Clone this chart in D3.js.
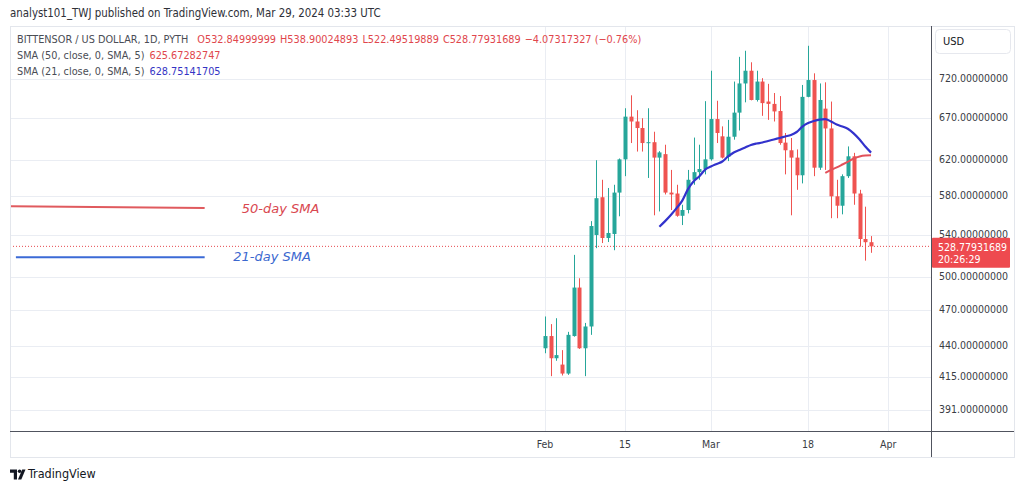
<!DOCTYPE html>
<html lang="en">
<head>
<meta charset="UTF-8">
<title>BITTENSOR / US DOLLAR, 1D</title>
<script src="https://d3js.org/d3.v7.min.js"></script>
<style>
  body { margin: 0; background: #fff; }
  svg text { font-family: "DejaVu Sans Condensed", "DejaVu Sans", sans-serif; }
</style>
</head>
<body>
<svg width="1024" height="491"></svg>
<script>
// daily candles, Feb 1 - Mar 29 2024
const dates = [
  "2024-02-01","2024-02-02","2024-02-03","2024-02-04","2024-02-05","2024-02-06","2024-02-07",
  "2024-02-08","2024-02-09","2024-02-10","2024-02-11","2024-02-12","2024-02-13","2024-02-14",
  "2024-02-15","2024-02-16","2024-02-17","2024-02-18","2024-02-19","2024-02-20","2024-02-21",
  "2024-02-22","2024-02-23","2024-02-24","2024-02-25","2024-02-26","2024-02-27","2024-02-28",
  "2024-02-29","2024-03-01","2024-03-02","2024-03-03","2024-03-04","2024-03-05","2024-03-06",
  "2024-03-07","2024-03-08","2024-03-09","2024-03-10","2024-03-11","2024-03-12","2024-03-13",
  "2024-03-14","2024-03-15","2024-03-16","2024-03-17","2024-03-18","2024-03-19","2024-03-20",
  "2024-03-21","2024-03-22","2024-03-23","2024-03-24","2024-03-25","2024-03-26","2024-03-27",
  "2024-03-28","2024-03-29"
];
const open = [438, 448, 430, 425, 418, 448, 490, 438, 456, 540, 579, 537, 541, 584, 621, 672, 666, 658,
  640, 641, 623, 627, 584, 583, 559.5, 565.5, 598, 606.5, 610,
  621, 669, 648, 624, 647.5, 677, 714.5, 731.5, 693, 717, 691, 688, 679, 640.5, 631.5, 623, 603, 697,
  719, 611.5, 682, 657.5, 580, 570, 602, 624.5, 583, 536, 532.85];
const high = [464.5, 458, 463, 436.5, 451.5, 520.5, 498.5, 459, 554, 620, 598, 589, 592.5, 622, 682.5, 699,
  680, 670, 682.5, 653.5, 630.5, 638, 609, 592.5, 571, 609, 646.5, 638, 691.5,
  731.5, 692, 660, 668, 717, 750.5, 759, 743, 731.5, 721.5, 714, 702, 698, 652, 646, 632.5, 712.5, 766,
  728, 714.5, 716, 691, 598, 604, 636, 628.5, 587, 569, 538.9];
const low = [434, 416, 428, 416.5, 417, 447.5, 437.5, 416, 449, 527, 532, 533, 525, 559, 602, 640, 630, 630,
  600, 560, 564, 582, 565.5, 558.5, 550, 562, 592.5, 598, 604,
  619.5, 640, 622, 619, 644, 655, 690, 692.5, 691, 673, 668, 666, 638, 604, 560, 587, 594, 696.5,
  602, 609, 609, 557, 557, 561, 600, 571, 528.5, 515, 522.5];
const close = [448, 430, 432.5, 418, 449, 490, 438, 456, 549, 578, 537, 542, 584, 621, 672, 666, 658, 640,
  641, 623, 629, 584, 582, 559.5, 565.5, 598, 606.5, 610, 621,
  669, 652, 623, 647.5, 677, 714.5, 731.5, 693, 717, 689, 688, 678.5, 640, 631.5, 623, 603, 697, 719,
  611.5, 693, 657.5, 580, 570, 602, 624.5, 583, 536, 532.85, 528.78];

// moving averages as drawn (21-day from Feb 21, 50-day from Mar 21)
const sma21Start = "2024-02-21";
const sma21 = [548.3, 554, 560.3, 567.5, 575.4, 587.8, 596.4, 602, 609.4, 612.8, 615.7, 618.5, 624.3,
  628.9, 631.8, 634.7, 637.7, 639.4, 640.6, 642.4, 644.2, 646, 647.8, 649.6, 653.2, 659.8, 664.1,
  666.6, 668.4, 669, 666, 662.3, 659.8, 656.8, 651.3, 644.2, 635.9, 628.75];
const sma50Start = "2024-03-21";
const sma50 = [605.7, 609, 611.8, 615.1, 618.5, 622, 624.3, 625.4, 625.67];

// axes
const yTicks = [720, 670, 620, 580, 540, 500, 470, 440, 415, 391];
const xTickDates = ["2024-02-01", "2024-02-15", "2024-03-01", "2024-03-18", "2024-04-01"];
const xTickLabels = ["Feb", "15", "Mar", "18", "Apr"];

// hand-drawn legend lines on the left (time / price anchors)
const notes = [
  { from: "2023-10-30T00:00Z", to: "2023-12-03T12:00Z", p1: 569.4, p2: 567.7, label: "50-day SMA",
    at: "2023-12-10T00:00Z", pl: 566, color: "#e05a5e", text: "#d9474f" },
  { from: "2023-10-31T12:00Z", to: "2023-12-03T12:00Z", p1: 518.2, p2: 518.2, label: "21-day SMA",
    at: "2023-12-08T12:00Z", pl: 518, color: "#3b6ad6", text: "#3b68cf" }
];

const lastPrice = 528.77931689;
const countdown = "20:26:29";

const svg = d3.select("svg");
const plot = { left: 10, right: 931, top: 26, bottom: 431 };
const frameRight = 1014, frameBottom = 457;

const x = d3.scaleUtc()
  .domain([new Date("2024-02-01"), new Date("2024-04-01")])
  .range([545, 545 + 60 * 5.72]);
const y = d3.scaleLog()
  .domain([391, 720])
  .range([409.7, 79.3]);

const bars = dates.map((d, i) => ({
  date: new Date(d), o: open[i], h: high[i], l: low[i], c: close[i]
}));

// frame
svg.append("rect")
  .attr("x", plot.left + 0.5).attr("y", plot.top + 0.5)
  .attr("width", frameRight - plot.left).attr("height", frameBottom - plot.top)
  .attr("fill", "#fff").attr("stroke", "#e3e6ec");

svg.append("clipPath").attr("id", "clip")
  .append("rect")
  .attr("x", plot.left + 1).attr("y", plot.top + 1)
  .attr("width", plot.right - plot.left - 1).attr("height", plot.bottom - plot.top - 1);

const g = svg.append("g").attr("clip-path", "url(#clip)");

// grid
g.selectAll(".hgrid").data(yTicks).enter().append("line")
  .attr("x1", plot.left).attr("x2", plot.right)
  .attr("y1", d => Math.round(y(d)) + 0.5).attr("y2", d => Math.round(y(d)) + 0.5)
  .attr("stroke", "#eaedf3");
g.selectAll(".vgrid").data(xTickDates).enter().append("line")
  .attr("x1", d => Math.round(x(new Date(d))) + 0.5).attr("x2", d => Math.round(x(new Date(d))) + 0.5)
  .attr("y1", plot.top).attr("y2", plot.bottom)
  .attr("stroke", "#eaedf3");

// last price dotted line
g.append("line")
  .attr("x1", plot.left).attr("x2", plot.right)
  .attr("y1", y(lastPrice)).attr("y2", y(lastPrice))
  .attr("stroke", "#e5484d").attr("stroke-width", 1)
  .attr("stroke-dasharray", "1,2");

// notes on the left
notes.forEach(n => {
  g.append("line")
    .attr("x1", x(d3.isoParse(n.from))).attr("x2", x(d3.isoParse(n.to)))
    .attr("y1", y(n.p1)).attr("y2", y(n.p2))
    .attr("stroke", n.color).attr("stroke-width", 2);
  g.append("text")
    .attr("x", x(d3.isoParse(n.at))).attr("y", y(n.pl))
    .attr("dominant-baseline", "middle")
    .attr("font-style", "italic")
    .attr("font-size", 13)
    .attr("fill", n.text)
    .style("font-family", "'DejaVu Sans', sans-serif")
    .text(n.label);
});

// candles
const up = "#26a69a", down = "#ef5350";
const candle = g.selectAll(".candle").data(bars).enter().append("g");
candle.append("line")
  .attr("x1", d => Math.round(x(d.date)) + 0.5).attr("x2", d => Math.round(x(d.date)) + 0.5)
  .attr("y1", d => y(d.h)).attr("y2", d => y(d.l))
  .attr("stroke", d => d.c >= d.o ? up : down);
candle.append("rect")
  .attr("x", d => Math.round(x(d.date)) - 1.5)
  .attr("width", 4)
  .attr("y", d => y(Math.max(d.o, d.c)))
  .attr("height", d => Math.max(1, Math.abs(y(d.o) - y(d.c))))
  .attr("fill", d => d.c >= d.o ? up : down);

// moving averages
const line = d3.line().x(d => x(d.date)).y(d => y(d.v)).curve(d3.curveMonotoneX);
const i21 = dates.indexOf(sma21Start), i50 = dates.indexOf(sma50Start);
g.append("path")
  .datum(sma21.map((v, i) => ({ date: new Date(dates[i21 + i]), v })))
  .attr("d", line).attr("fill", "none")
  .attr("stroke", "#3232cc").attr("stroke-width", 2.2);
g.append("path")
  .datum(sma50.map((v, i) => ({ date: new Date(dates[i50 + i]), v })))
  .attr("d", line).attr("fill", "none")
  .attr("stroke", "#e2515a").attr("stroke-width", 2);

// axis borders
svg.append("line")
  .attr("x1", plot.right + 0.5).attr("x2", plot.right + 0.5)
  .attr("y1", plot.top).attr("y2", frameBottom)
  .attr("stroke", "#50535e");
svg.append("line")
  .attr("x1", plot.left).attr("x2", frameRight)
  .attr("y1", plot.bottom + 0.5).attr("y2", plot.bottom + 0.5)
  .attr("stroke", "#50535e");

// price axis labels
svg.selectAll(".ylab").data(yTicks).enter().append("text")
  .attr("x", 939).attr("y", d => y(d))
  .attr("dominant-baseline", "middle")
  .attr("font-size", 10.5).attr("fill", "#3a3d45")
  .text(d => d.toFixed(8));

// currency box
svg.append("rect")
  .attr("x", 935.5).attr("y", 29.5).attr("width", 75).attr("height", 24).attr("rx", 4)
  .attr("fill", "#fff").attr("stroke", "#e6e8ee");
svg.append("text")
  .attr("x", 943).attr("y", 42).attr("dominant-baseline", "middle")
  .attr("font-size", 11).attr("fill", "#131722").text("USD");

// last price tag
const tagY = y(lastPrice);
svg.append("rect")
  .attr("x", plot.right + 1).attr("y", tagY - 8.5).attr("width", 78).attr("height", 30).attr("rx", 1)
  .attr("fill", "#ee4a4f");
svg.append("text")
  .attr("x", 938).attr("y", tagY + 1.5).attr("dominant-baseline", "middle")
  .attr("font-size", 10.5).attr("fill", "#fff").text(lastPrice.toFixed(8));
svg.append("text")
  .attr("x", 938).attr("y", tagY + 13.5).attr("dominant-baseline", "middle")
  .attr("font-size", 10.5).attr("fill", "#fff").text(countdown);

// time axis labels
svg.selectAll(".xlab").data(xTickDates).enter().append("text")
  .attr("x", d => x(new Date(d))).attr("y", 445)
  .attr("text-anchor", "middle").attr("dominant-baseline", "middle")
  .attr("font-size", 10.5).attr("fill", "#3a3d45")
  .text((d, i) => xTickLabels[i]);

// header
svg.append("text")
  .attr("x", 10).attr("y", 13).attr("dominant-baseline", "middle")
  .attr("font-size", 11.4).attr("fill", "#2e3038")
  .text("analyst101_TWJ published on TradingView.com, Mar 29, 2024 03:33 UTC");

// legend
const red = "#e0464c";
const l1 = svg.append("text").attr("x", 17).attr("y", 40).attr("dominant-baseline", "middle")
  .attr("font-size", 10.8).attr("fill", "#4a4d55");
l1.append("tspan").text("BITTENSOR / US DOLLAR, 1D, PYTH");
[["O", "532.84999999"], ["H", "538.90024893"], ["L", "522.49519889"], ["C", "528.77931689"]]
  .forEach(([k, v], i) => {
    l1.append("tspan").attr("dx", i === 0 ? 9 : 4).attr("fill", red).text(k + v);
  });
l1.append("tspan").attr("dx", 4).attr("fill", red).text("\u22124.07317327 (\u22120.76%)");

const legendSma = [
  ["SMA (50, close, 0, SMA, 5)", "625.67282747", red],
  ["SMA (21, close, 0, SMA, 5)", "628.75141705", "#3434c4"]
];
legendSma.forEach(([name, v, col], i) => {
  const t = svg.append("text").attr("x", 17).attr("y", 56 + i * 16)
    .attr("dominant-baseline", "middle").attr("font-size", 10.8).attr("fill", "#4a4d55");
  t.append("tspan").text(name);
  t.append("tspan").attr("dx", 5).attr("fill", col).text(v);
});

// TradingView mark
const logo = svg.append("g").attr("fill", "#131722");
logo.append("path").attr("d", "M10,469.5 h7 v10 h-3.2 v-6.8 h-3.8 z");
logo.append("circle").attr("cx", 19.6).attr("cy", 471.3).attr("r", 1.8);
logo.append("path").attr("d", "M22.2,469.5 h3.3 l-4.2,10 h-3.3 z");
svg.append("text")
  .attr("x", 28).attr("y", 474.5).attr("dominant-baseline", "middle")
  .attr("font-size", 12.5).attr("fill", "#131722").text("TradingView");
</script>
</body>
</html>
